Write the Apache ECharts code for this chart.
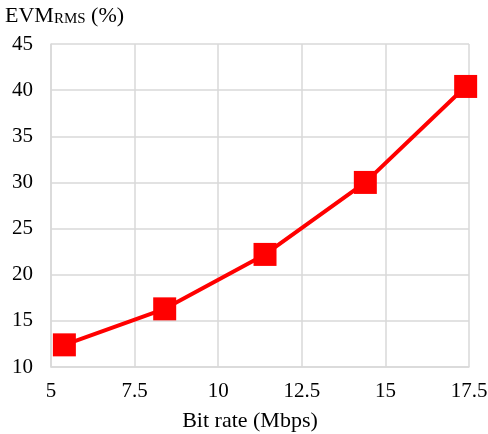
<!DOCTYPE html>
<html>
<head>
<meta charset="utf-8">
<script src="https://cdn.jsdelivr.net/npm/echarts@6/dist/echarts.min.js"></script>
<style>
  html, body { margin: 0; padding: 0; background: #fff; }
  #chart { width: 488px; height: 434px; }
</style>
</head>
<body>
<div id="chart"></div>
<script>
  // values
  const bitRate = [5.4, 8.4, 11.4, 14.4, 17.4]
  const evmRms = [12.4, 16.3, 22.2, 30.0, 40.4]

  const font = 'Liberation Serif'
  const gridColor = '#d9d9d9'

  let points = []
  for (let i = 0; i < bitRate.length; i++) {
    points.push([bitRate[i], evmRms[i]])
  }

  let myChart = echarts.init(document.getElementById('chart'))
  myChart.setOption({
    animation: false,
    title: {
      left: 5,
      top: 0,
      padding: 0,
      text: '{a|EVM}{b|RMS}{a| (%)}',
      textStyle: {
        fontWeight: 'normal',
        rich: {
          a: { fontFamily: font, fontSize: 22, fontWeight: 'normal', color: '#000', verticalAlign: 'bottom', lineHeight: 27 },
          b: { fontFamily: font, fontSize: 15, fontWeight: 'normal', color: '#000', verticalAlign: 'bottom', lineHeight: 21 }
        }
      }
    },
    grid: {
      left: 51,
      right: 19,
      top: 44,
      bottom: 67,
      outerBoundsMode: 'none'
    },
    xAxis: {
      type: 'value',
      min: 5,
      max: 17.5,
      interval: 2.5,
      name: 'Bit rate (Mbps)',
      nameLocation: 'middle',
      nameGap: 43,
      nameTextStyle: { fontFamily: font, fontSize: 22, color: '#000', padding: [0, 20, 0, 0] },
      axisLine: { lineStyle: { color: gridColor, width: 1.5 } },
      axisTick: { show: false },
      axisLabel: { fontFamily: font, fontSize: 21, color: '#000', margin: 14 },
      splitLine: { lineStyle: { color: gridColor, width: 1.5 } }
    },
    yAxis: {
      type: 'value',
      min: 10,
      max: 45,
      interval: 5,
      axisLine: { show: true, lineStyle: { color: gridColor, width: 1.5 } },
      axisTick: { show: false },
      axisLabel: { fontFamily: font, fontSize: 21, color: '#000', margin: 18 },
      splitLine: { lineStyle: { color: gridColor, width: 1.5 } }
    },
    series: [
      {
        type: 'line',
        data: points,
        symbol: 'rect',
        symbolSize: 23,
        itemStyle: { color: '#ff0000' },
        lineStyle: { color: '#ff0000', width: 4 }
      }
    ]
  })
</script>
</body>
</html>
